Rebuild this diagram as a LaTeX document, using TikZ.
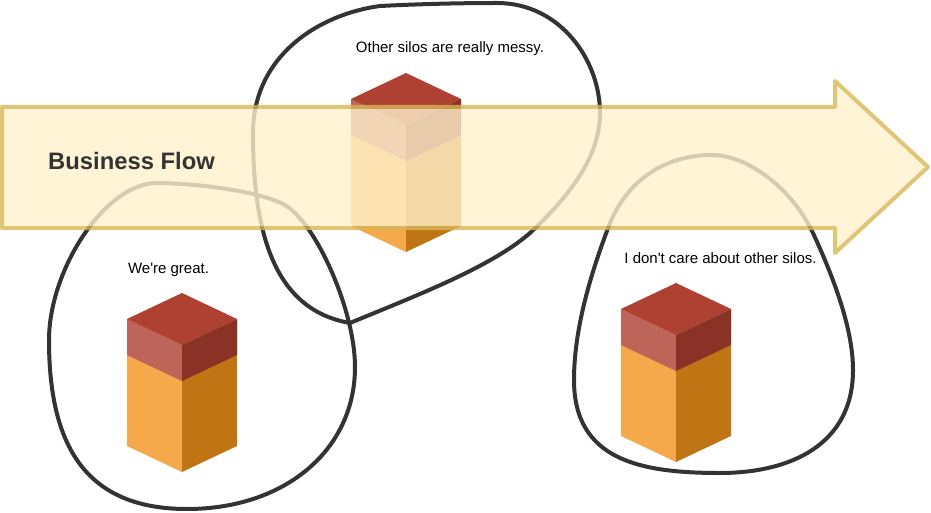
\documentclass[tikz,border=0pt]{standalone}
\usepackage{fontspec}
\setmainfont{Liberation Sans}
\definecolor{SiloTop}{HTML}{AE4132}
\definecolor{SiloLeft}{HTML}{BC6558}
\definecolor{SiloRight}{HTML}{8B3226}
\definecolor{BodyLeft}{HTML}{F5A94A}
\definecolor{BodyRight}{HTML}{C07515}
\definecolor{FlowFill}{HTML}{FFF2CC}
\definecolor{FlowLine}{HTML}{D6B656}
\definecolor{LoopLine}{HTML}{333333}
\tikzset{
  loopline/.style={draw=LoopLine,line width=4pt,line cap=round,line join=round},
  flowline/.style={draw=FlowLine,fill=FlowFill,line width=4pt,line join=round},
  silotext/.style={font=\fontsize{15}{18}\selectfont,text=black,inner sep=0pt,anchor=base},
}
\newcommand{\silo}[2]{
\begin{scope}[shift={(#1,#2)}]
\fill [BodyLeft] (-55,26)--(0,52)--(0,179)--(-55,153)--cycle;
\fill [BodyRight] (55,26)--(0,52)--(0,179)--(55,153)--cycle;
\fill [SiloLeft] (-55,26)--(0,52)--(0,88)--(-55,62)--cycle;
\fill [SiloRight] (55,26)--(0,52)--(0,88)--(55,62)--cycle;
\fill [SiloTop] (0,0)--(55,26)--(0,52)--(-55,26)--cycle;
\end{scope}
}
\begin{document}
\begin{tikzpicture}[x=1pt,y=-1pt]
\useasboundingbox (0,0) rectangle (931,513);

\silo{182}{293}
\silo{406}{73}
\silo{676}{283}

\draw [loopline] (157,183) .. controls (190,183) and (255,190) .. (283,204)
  .. controls (315,220) and (355,310) .. (355,367)
  .. controls (355,450) and (285,509) .. (187,509)
  .. controls (85,509) and (49,445) .. (49,340)
  .. controls (49,270) and (105,183) .. (157,183) -- cycle;
\draw [loopline] (350,323) .. controls (275,310) and (253,235) .. (253,133)
  .. controls (253,55) and (320,14) .. (380,6)
  .. controls (420,4) and (460,3) .. (497,3)
  .. controls (560,3) and (600,60) .. (600,113)
  .. controls (600,160) and (565,200) .. (530,233)
  .. controls (490,268) and (410,298) .. (350,323);
\draw [loopline] (712,155) .. controls (745,155) and (790,185) .. (813,233)
  .. controls (830,270) and (853,325) .. (853,370)
  .. controls (853,445) and (790,473) .. (720,473)
  .. controls (640,473) and (574,460) .. (574,380)
  .. controls (574,330) and (590,275) .. (610,223)
  .. controls (628,180) and (665,155) .. (712,155) -- cycle;

\begin{scope}[transparency group,opacity=0.8]
\path [flowline] (2,107)--(835,107)--(835,81)--(928,167)--(835,253)--(835,228)--(2,228)--cycle;
\end{scope}

\node [font=\fontsize{23.8}{28}\selectfont\bfseries,text=LoopLine,inner sep=0pt,anchor=base west] (flowlabel) at (48,170) {Business Flow};
\node [silotext] (greatlabel) at (168.5,273.5) {We\textquotesingle re great.};
\node [silotext] (messylabel) at (450,53) {Other silos are really messy.};
\node [silotext] (carelabel) at (720.5,263) {I don\textquotesingle t care about other silos.};

\end{tikzpicture}
\end{document}
